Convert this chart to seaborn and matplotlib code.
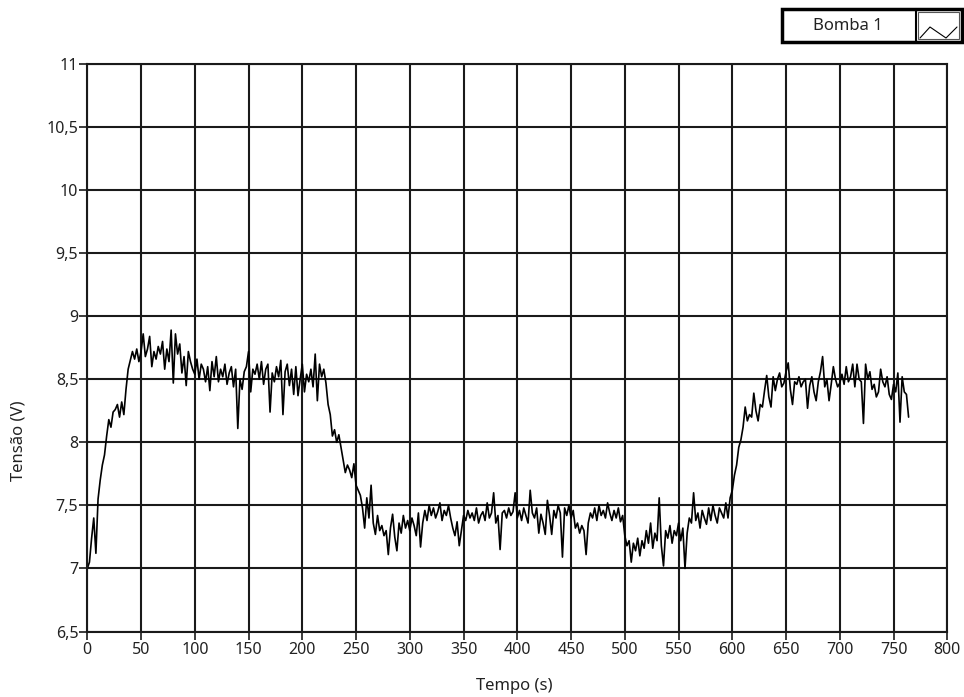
import numpy as np
import pandas as pd
import matplotlib
matplotlib.use("Agg")
import matplotlib.pyplot as plt
import seaborn as sns
from matplotlib.patches import Rectangle

# ---------- data (one sample every 2 s) ----------
tempo = list(range(0, 765, 2))

tensao = [
    7.00, 7.05, 7.24, 7.40, 7.12, 7.55, 7.70, 7.82, 7.90, 8.05,   # 0-18
    8.18, 8.12, 8.24, 8.26, 8.30, 8.20, 8.32, 8.22, 8.42, 8.58,   # 20-38
    8.65, 8.72, 8.66, 8.74, 8.64, 8.72, 8.86, 8.68, 8.74, 8.84,   # 40-58
    8.60, 8.72, 8.66, 8.76, 8.70, 8.80, 8.58, 8.74, 8.64, 8.89,   # 60-78
    8.47, 8.86, 8.70, 8.78, 8.55, 8.68, 8.45, 8.72, 8.64, 8.58,   # 80-98
    8.54, 8.66, 8.50, 8.62, 8.58, 8.48, 8.60, 8.41, 8.64, 8.52,   # 100-118
    8.68, 8.48, 8.58, 8.52, 8.62, 8.46, 8.55, 8.60, 8.44, 8.58,   # 120-138
    8.11, 8.50, 8.42, 8.56, 8.60, 8.72, 8.40, 8.58, 8.54, 8.62,   # 140-158
    8.50, 8.64, 8.46, 8.58, 8.62, 8.24, 8.55, 8.48, 8.60, 8.52,   # 160-178
    8.65, 8.22, 8.56, 8.62, 8.45, 8.58, 8.38, 8.60, 8.37, 8.50,   # 180-198
    8.62, 8.40, 8.54, 8.48, 8.58, 8.44, 8.70, 8.33, 8.62, 8.52,   # 200-218
    8.58, 8.47, 8.30, 8.22, 8.05, 8.10, 8.00, 8.06, 7.96, 7.86,   # 220-238
    7.76, 7.82, 7.78, 7.72, 7.83, 7.66, 7.62, 7.58, 7.48, 7.32,   # 240-258
    7.56, 7.40, 7.66, 7.36, 7.27, 7.42, 7.30, 7.34, 7.26, 7.30,   # 260-278
    7.11, 7.32, 7.43, 7.25, 7.14, 7.36, 7.28, 7.42, 7.32, 7.38,   # 280-298
    7.30, 7.40, 7.34, 7.26, 7.44, 7.17, 7.36, 7.46, 7.38, 7.50,   # 300-318
    7.42, 7.48, 7.40, 7.45, 7.52, 7.38, 7.46, 7.42, 7.50, 7.40,   # 320-338
    7.32, 7.26, 7.37, 7.18, 7.30, 7.42, 7.38, 7.46, 7.40, 7.44,   # 340-358
    7.38, 7.48, 7.36, 7.42, 7.45, 7.38, 7.52, 7.40, 7.44, 7.60,   # 360-378
    7.36, 7.42, 7.15, 7.44, 7.46, 7.40, 7.48, 7.42, 7.45, 7.60,   # 380-398
    7.40, 7.46, 7.38, 7.48, 7.42, 7.36, 7.62, 7.44, 7.40, 7.48,   # 400-418
    7.28, 7.43, 7.36, 7.27, 7.54, 7.42, 7.27, 7.46, 7.40, 7.50,   # 420-438
    7.44, 7.09, 7.48, 7.42, 7.50, 7.40, 7.46, 7.32, 7.36, 7.28,   # 440-458
    7.34, 7.30, 7.11, 7.36, 7.44, 7.40, 7.48, 7.38, 7.50, 7.42,   # 460-478
    7.46, 7.40, 7.52, 7.44, 7.38, 7.46, 7.40, 7.48, 7.37, 7.42,   # 480-498
    7.26, 7.18, 7.22, 7.05, 7.20, 7.14, 7.24, 7.10, 7.22, 7.16,   # 500-518
    7.30, 7.20, 7.36, 7.16, 7.28, 7.22, 7.56, 7.18, 7.02, 7.30,   # 520-538
    7.24, 7.34, 7.20, 7.30, 7.26, 7.36, 7.22, 7.32, 7.00, 7.28,   # 540-558
    7.40, 7.36, 7.60, 7.38, 7.44, 7.32, 7.46, 7.40, 7.35, 7.48,   # 560-578
    7.38, 7.50, 7.42, 7.36, 7.48, 7.44, 7.40, 7.52, 7.40, 7.56,   # 580-598
    7.62, 7.74, 7.82, 7.96, 8.02, 8.12, 8.28, 8.17, 8.22, 8.20,   # 600-618
    8.39, 8.25, 8.17, 8.30, 8.28, 8.41, 8.53, 8.36, 8.28, 8.52,   # 620-638
    8.41, 8.50, 8.55, 8.44, 8.47, 8.56, 8.63, 8.42, 8.30, 8.48,   # 640-658
    8.46, 8.52, 8.44, 8.48, 8.50, 8.27, 8.45, 8.52, 8.40, 8.33,   # 660-678
    8.48, 8.56, 8.68, 8.44, 8.50, 8.33, 8.46, 8.60, 8.50, 8.44,   # 680-698
    8.47, 8.54, 8.46, 8.60, 8.48, 8.52, 8.62, 8.44, 8.62, 8.50,   # 700-718
    8.48, 8.15, 8.62, 8.50, 8.56, 8.42, 8.46, 8.36, 8.40, 8.58,   # 720-738
    8.48, 8.44, 8.52, 8.38, 8.34, 8.46, 8.40, 8.55, 8.16, 8.52,   # 740-758
    8.40, 8.38, 8.20,                                             # 760-764
]

x_ticks = list(range(0, 801, 50))
y_ticks = [6.5, 7, 7.5, 8, 8.5, 9, 9.5, 10, 10.5, 11]
y_labels = ["6,5", "7", "7,5", "8", "8,5", "9", "9,5", "10", "10,5", "11"]
serie = "Bomba 1"

df = pd.DataFrame({"tempo": tempo, "tensao": tensao})

#---------- style ----------
sns.set_style("white")
plt.rcParams["font.family"] = ["Noto Sans", "DejaVu Sans"]

W, H = 964, 697
fig = plt.figure(figsize=(W / 100, H / 100), dpi=100)
ax = fig.add_axes([87.3 / W, 1 - 631.5 / H, 860 / W, 567.5 / H])

sns.lineplot(data=df, x="tempo", y="tensao", color="black", lw=1.2, ax=ax, legend=False)

ax.set_xlim(0, 800)
ax.set_ylim(6.5, 11)
ax.set_xticks(x_ticks)
ax.set_xticklabels([str(v) for v in x_ticks])
ax.set_yticks(y_ticks)
ax.set_yticklabels(y_labels)
ax.grid(True, color="#1a1a1a", lw=1.5)
ax.set_axisbelow(True)
for s in ax.spines.values():
    s.set_color("#1a1a1a")
    s.set_linewidth(1.5)
ax.tick_params(axis="both", direction="out", length=6, width=1.2, color="#1a1a1a",
               labelsize=11.5, labelcolor="#222222", left=True, bottom=True)
ax.tick_params(axis="y", pad=0.5)
ax.tick_params(axis="x", pad=1.5)

ax.set_xlabel("Tempo (s)", fontsize=12, color="#222222")
ax.set_ylabel("Tensão (V)", fontsize=12, color="#222222")
ax.xaxis.label.set_va("center")
ax.yaxis.label.set_va("center")
ax.xaxis.set_label_coords(0.497, -0.096)
ax.yaxis.set_label_coords(-0.080, 0.337)

#---------- legend box (LabVIEW style) ----------
lax = fig.add_axes([0, 0, 1, 1], facecolor="none")
lax.set_xlim(0, W)
lax.set_ylim(H, 0)
lax.axis("off")
lax.add_patch(Rectangle((782, 9), 180, 33, fill=False, ec="black", lw=2.5))
lax.plot([916, 916], [9, 42], color="black", lw=1.5)
lax.add_patch(Rectangle((918, 12), 41, 27, fill=False, ec="#555555", lw=0.8))
lax.plot([920, 930, 946, 957], [38, 27, 38, 27], color="black", lw=0.8)
lax.text(848, 25.5, serie, ha="center", va="center", fontsize=12, color="#222222")

fig.savefig("out.png", dpi=100)
